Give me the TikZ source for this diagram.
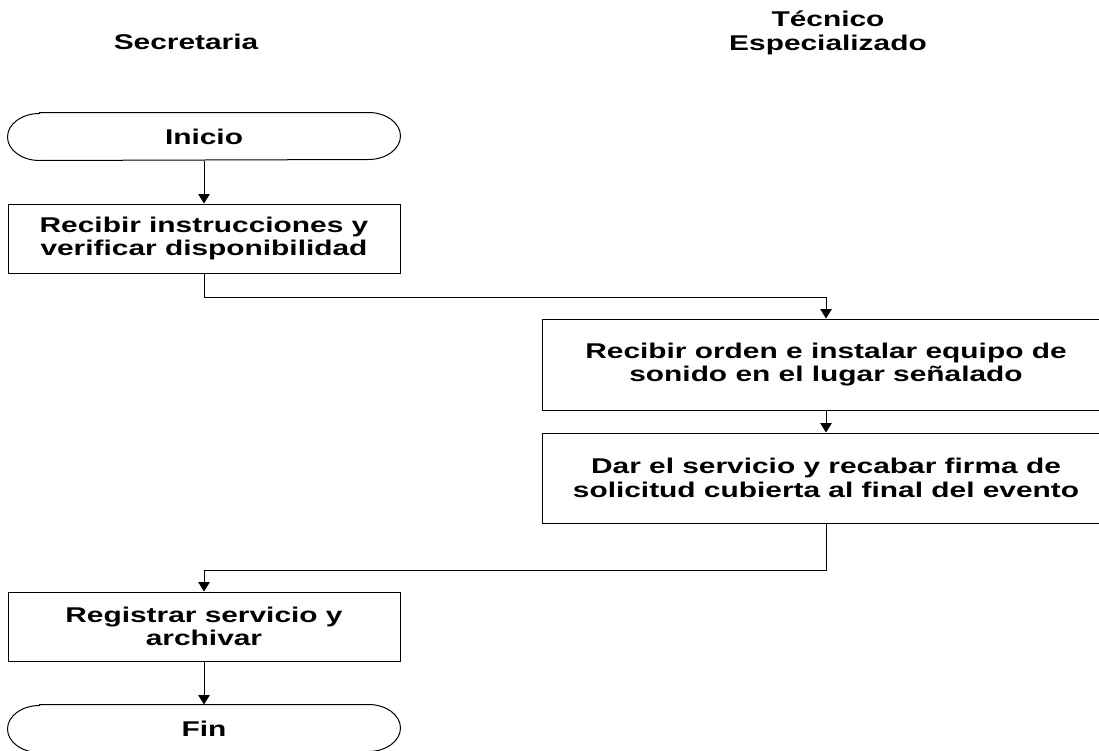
\documentclass[tikz,border=0pt]{standalone}
\usepackage{fontspec}
\setmainfont{Liberation Sans}[FakeStretch=1.4]
\usetikzlibrary{arrows.meta}
\tikzset{every picture/.style={line width=0.75pt}}
\tikzset{
  caja/.style={draw, align=center, inner sep=0pt, font=\fontsize{16}{17.5}\selectfont\bfseries},
  terminal/.style={align=center, inner sep=0pt, minimum width=294pt, minimum height=35.25pt, font=\fontsize{16}{17.5}\selectfont\bfseries},
  encabezado/.style={align=center, inner sep=0pt, font=\fontsize{16}{18}\selectfont\bfseries},
  flecha/.style={-{Triangle[length=7pt,width=8.5pt]}}
}

\begin{document}
\begin{tikzpicture}[x=0.75pt,y=0.75pt,yscale=-1,xscale=1]
\useasboundingbox (0,0) rectangle (1099,750);

% Headers
\node (secretaria) [encabezado] at (186,42) {Secretaria};
\node (tecnico) [encabezado] at (828,33) {Técnico\\Especializado};

% Terminals
\node (inicio) [terminal] at (204,136.5) {Inicio};
\node (fin) [terminal] at (204,728.5) {Fin};
\draw ([xshift=24pt]inicio.north west) -- ([xshift=-24pt]inicio.north east) arc[start angle=-90,end angle=90,x radius=24pt,y radius=17.625pt] -- ([xshift=24pt]inicio.south west) arc[start angle=90,end angle=270,x radius=24pt,y radius=17.625pt] -- cycle;
\draw ([xshift=24pt]fin.north west) -- ([xshift=-24pt]fin.north east) arc[start angle=-90,end angle=90,x radius=24pt,y radius=17.625pt] -- ([xshift=24pt]fin.south west) arc[start angle=90,end angle=270,x radius=24pt,y radius=17.625pt] -- cycle;

% Process boxes
\node (recibir) [caja, minimum width=294pt, minimum height=51.75pt] at (204,238.5) {Recibir instrucciones y\\verificar disponibilidad};
\node (orden) [caja, minimum width=426pt, minimum height=68.25pt] at (826,364.5) {Recibir orden e instalar equipo de\\sonido en el lugar señalado};
\node (servicio) [caja, minimum width=426pt, minimum height=67.5pt] at (826,478) {Dar el servicio y recabar firma de\\solicitud cubierta al final del evento};
\node (registrar) [caja, minimum width=294pt, minimum height=51.75pt] at (204,626.5) {Registrar servicio y\\archivar};

% Connectors
\draw [flecha] (inicio) -- (recibir);
\draw [flecha] (recibir.south) -- ++(0,24) -| (orden.north);
\draw [flecha] (orden) -- (servicio);
\draw [flecha] (servicio.south) -- ++(0,47) -| (registrar.north);
\draw [flecha] (registrar) -- (fin);

\end{tikzpicture}
\end{document}
